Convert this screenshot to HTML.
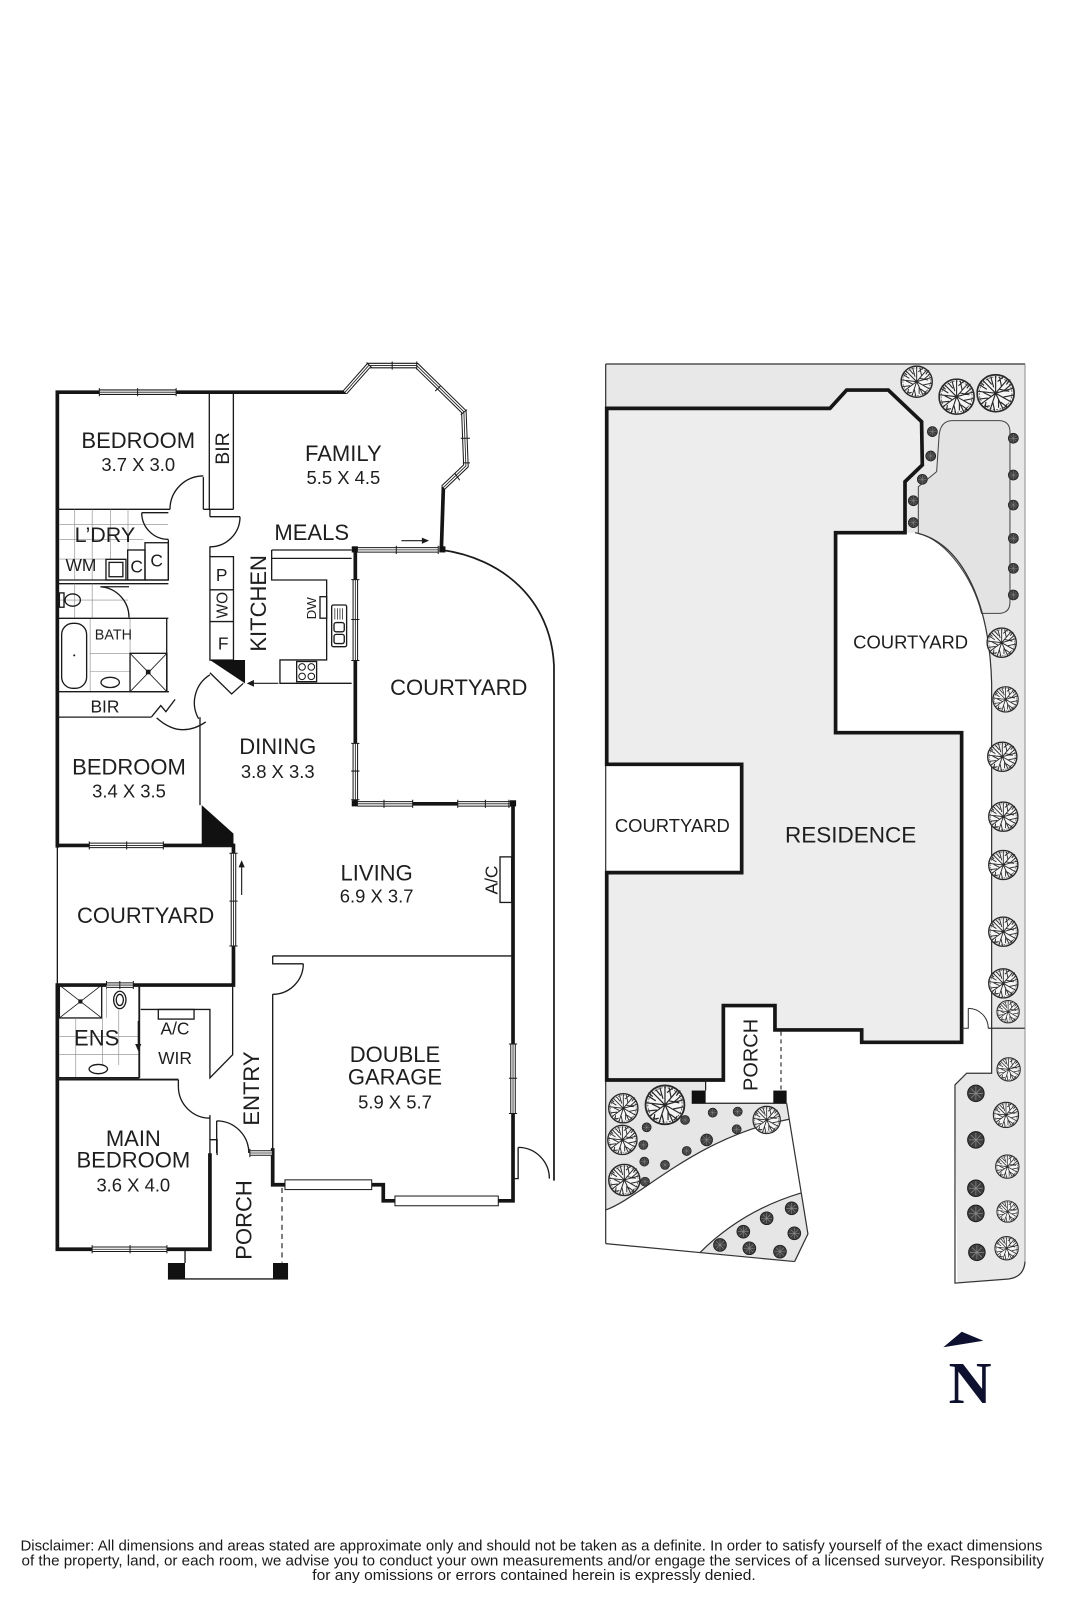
<!DOCTYPE html>
<html><head><meta charset="utf-8"><style>
html,body{margin:0;padding:0;background:#fff;}
svg{display:block}
text{font-family:"Liberation Sans",Arial,sans-serif;fill:#1e1e1e;}
.wb{stroke:#1a1a1a;stroke-width:5.4;fill:none;stroke-linejoin:miter}
.ww{stroke:#fff;stroke-width:3.4;fill:none;stroke-linejoin:miter}
.wc{stroke:#1a1a1a;stroke-width:0.8;fill:none}
.th{stroke:#151515;stroke-width:3.6;fill:none;stroke-linecap:square}
.tn{stroke:#1a1a1a;stroke-width:1.3;fill:none}
.lt{stroke:#888;stroke-width:0.6;fill:none}
</style></head><body>
<svg width="1067" height="1600" viewBox="0 0 1042 1562.5" xmlns="http://www.w3.org/2000/svg">
<defs>
<symbol id="t" viewBox="-20 -20 40 40">
<circle r="19" fill="#f6f6f6" stroke="#2a2a2a" stroke-width="1.8"/>
<circle r="16.8" fill="none" stroke="#555" stroke-width="0.9" stroke-dasharray="2 1.4"/>
<path d="M0,0 L0,-18 M0,0 L12,-14 M0,0 L18,-5 M0,0 L16,9 M0,0 L8,17 M0,0 L-6,18 M0,0 L-15,11 M0,0 L-18,-2 M0,0 L-13,-13 M-4,-9 L-9,-15 M6,-7 L4,-17 M9,-3 L17,-10 M8,4 L18,2 M5,9 L13,15 M-3,9 L-1,18 M-8,5 L-17,6 M-9,-4 L-17,-9 M2,-12 L8,-17 M-10,9 L-11,16 M4,-4 L14,-2 M-5,3 L-13,-1 M3,6 L3,15 M-2,-6 L-5,-17 M11,-9 L15,-14 M-12,-8 L-16,-12 M12,11 L9,15 M-6,13 L-12,14" stroke="#2a2a2a" stroke-width="1.2" fill="none"/>
</symbol>
<symbol id="d" viewBox="-20 -20 40 40">
<circle r="18" fill="#3e3e3e" stroke="#1a1a1a" stroke-width="2"/>
<path d="M0,-15 V15 M-15,0 H15 M-10.5,-10.5 L10.5,10.5 M-10.5,10.5 L10.5,-10.5" stroke="#8a8a8a" stroke-width="1.6"/>
</symbol>
</defs>

<!-- ================= LEFT FLOOR PLAN ================= -->
<path d="M431,537 C490,545 538,585 541,650 V1153" stroke="#1a1a1a" stroke-width="1.7" fill="none"/>

<path class="th" d="M56,383 H337 M56,383 V826 M56,962 V1220 M433,476 L431,537 M347,537 V785 M347,785 H501 M501,785 V1172.7 M266.3,1157 H374.3 V1172.7 H501 M56,825.6 H228 M228,825.6 V962 M56,962 H228 M56,1220 H205 M205,1128 V1220 M266.3,1123 V1157"/>

<path class="wb" d="M97,383 H172 M337,383 L360,357 L407,357 L453,402 L455,455 L433,476 M349,537 H428 M347,566 V645 M347,726 V781 M349,785 H403 M447,785 H500 M501,1019.5 V1087.4 M87.2,825.6 H159.5 M228,833.3 V923.8 M104,962 H130.2 M90,1220 H163 M244,1126 H266.3"/>
<path class="ww" d="M97,383 H172 M337,383 L360,357 L407,357 L453,402 L455,455 L433,476 M349,537 H428 M347,566 V645 M347,726 V781 M349,785 H403 M447,785 H500 M501,1019.5 V1087.4 M87.2,825.6 H159.5 M228,833.3 V923.8 M104,962 H130.2 M90,1220 H163 M244,1126 H266.3"/>
<path class="wc" d="M97,383 H172 M337,383 L360,357 L407,357 L453,402 L455,455 L433,476 M349,537 H428 M347,566 V645 M347,726 V781 M349,785 H403 M447,785 H500 M501,1019.5 V1087.4 M87.2,825.6 H159.5 M228,833.3 V923.8 M104,962 H130.2 M90,1220 H163 M244,1126 H266.3"/>
<path stroke="#1a1a1a" stroke-width="1" d="M97,379 V387 M134.4,379 V387 M172,379 V387 M358,354 L363,359 M383,353 V361 M407,353 V361 M430,377 L425,382 M450,405 L456,400 M450,428 H459 M452,452 H459 M444,462 L449,469 M387,533 V541 M428,533 V541 M343,605 H351 M343,566 H351 M343,645 H351 M343,726 H351 M343,753 H351 M343,781 H351 M375,781 V789 M403,781 V789 M447,781 V789 M474,781 V789 M497,781 V789 M497,1019.5 H505 M497,1053 H505 M497,1087.4 H505 M87.2,821.6 V829.6 M123.7,821.6 V829.6 M159.5,821.6 V829.6 M224,833.3 H232 M224,880 H232 M224,923.8 H232 M104,958 V966 M117,958 V966 M130.2,958 V966 M90,1216 V1224 M127,1216 V1224 M163,1216 V1224 M244,1122 V1130 M266,1122 V1130"/>
<rect x="278.3" y="1152.2" width="84.7" height="9.5" fill="#fff" stroke="#1a1a1a" stroke-width="1"/>
<rect x="385.7" y="1168" width="100.9" height="9.5" fill="#fff" stroke="#1a1a1a" stroke-width="1"/>
<rect x="343.5" y="533.5" width="6" height="6" fill="#111"/>
<rect x="343.5" y="781.5" width="6" height="6" fill="#111"/>
<rect x="498" y="781.5" width="6" height="6" fill="#111"/>
<rect x="429" y="533.5" width="6" height="6" fill="#111"/>

<path class="tn" d="M56,497.4 H166 M198.6,497.4 H227.9 M204.4,383 V497.4 M227.9,383 V497.4 M198.6,466 V497.4 M205,497.4 V504.6 M205,504.6 H234.4 M205,533.6 V543.6"/>
<path class="tn" d="M166,497.4 A32.6,32.6 0 0 1 198.6,464.8 M234.4,504.6 A29.4,29.4 0 0 1 205,534"/>
<rect class="tn" x="205" y="543.6" width="23" height="101"/>
<path class="tn" d="M205,576 H228 M205,607 H228"/>
<polygon points="205,644.5 239.3,644.5 239.3,667.3" fill="#111"/>
<path class="tn" d="M205,657 L226.2,677.7 L237.6,667.3 M205,659 A32,32 0 0 0 194,702"/>
<path class="tn" d="M265.3,537.1 H343.4 M265.3,545.3 H343.4 M265.3,537.1 V566.4 H319 V644.5 H273.4 V667.3 H343.4"/>
<path stroke="#1a1a1a" stroke-width="1.1" fill="none" d="M271.8,667.3 H245"/>
<polygon points="241,667.3 248,664 248,670.6" fill="#1a1a1a"/>
<rect class="tn" x="312.5" y="582.7" width="6.5" height="21"/>
<rect class="tn" x="323.9" y="590.8" width="14.6" height="40.7" rx="1.5"/>
<rect class="tn" x="326.2" y="608" width="10" height="9" rx="2"/>
<rect class="tn" x="326.2" y="619.5" width="10" height="9" rx="2"/>
<path stroke="#1a1a1a" stroke-width="0.7" d="M327,594 V605 M329.5,594 V605 M332,594 V605 M334.5,594 V605"/>
<rect class="tn" x="289.7" y="646" width="19.5" height="19.7"/>
<g fill="none" stroke="#1a1a1a" stroke-width="1"><circle cx="295" cy="651.3" r="3.2"/><circle cx="304" cy="651.3" r="3.2"/><circle cx="295" cy="660.5" r="3.2"/><circle cx="304" cy="660.5" r="3.2"/></g>
<path stroke="#1a1a1a" stroke-width="1.1" d="M392,528 H414"/>
<polygon points="419,528 412,525 412,531" fill="#1a1a1a"/>

<path class="lt" d="M73,497.4 V566 M90,497.4 V566 M108,497.4 V546 M125,497.4 V537 M58,512 H164 M58,527 H140 M58,546 H103"/>
<path class="tn" d="M56,566.4 H164.4 M56,570 H164.4 M164.4,527 V566.4"/>
<rect class="tn" x="124.7" y="537.1" width="16.9" height="29.3"/>
<rect class="tn" x="141.6" y="530" width="22.8" height="36.4"/>
<rect class="tn" x="103.5" y="546.2" width="19.5" height="20.2"/>
<rect class="tn" x="106.5" y="549.2" width="13.5" height="14"/>
<path class="tn" d="M164.4,500.7 H138.4 M138.4,500.7 A26,26 0 0 0 164.4,526.7"/>
<path class="lt" d="M73,570 V603 M90,570 V603 M58,586 H125 M88,603.8 V675 M127,603.8 V638 M88,638 H127 M88,656 H127"/>
<ellipse class="tn" cx="71" cy="586" rx="7.5" ry="6"/>
<rect class="tn" x="58" y="579" width="4.5" height="14"/>
<path class="tn" d="M98,573 A30,30 0 0 1 126,603 M98,573 H126"/>
<path class="tn" d="M56,603.8 H164.4 M162.8,603.8 V675.5"/>
<rect class="tn" x="60.2" y="608.7" width="24.4" height="63.5" rx="11"/>
<circle cx="72.5" cy="640" r="1" fill="#1a1a1a"/>
<rect class="tn" x="127" y="638" width="36" height="37.5"/>
<path stroke="#1a1a1a" stroke-width="0.8" d="M127,638 L163,675.5 M163,638 L127,675.5"/>
<rect x="142.5" y="654" width="4.5" height="4.5" fill="#1a1a1a"/>
<ellipse class="tn" cx="107.6" cy="666.4" rx="9" ry="5"/>
<path class="tn" d="M56,675.5 H165 M56,700.3 H148 M148,700 L157,689 L162,695 L171,683 M153,701 Q176,722 201,705 M195.3,700.3 V786.3"/>
<polygon points="197,786.3 228,814.1 228,825.6 197,825.6" fill="#111"/>
<path class="tn" d="M56,826 V962" stroke-width="1"/>
<path stroke="#1a1a1a" stroke-width="1.1" d="M236,874 V845"/>
<polygon points="236,840 233,847 239,847" fill="#1a1a1a"/>
<rect class="tn" x="58" y="962" width="41.3" height="32.1"/>
<path stroke="#1a1a1a" stroke-width="0.8" d="M58,962 L99.3,994.1 M99.3,962 L58,994.1"/>
<rect x="76.5" y="976" width="4" height="4" fill="#1a1a1a"/>
<ellipse class="tn" cx="117" cy="976.5" rx="6" ry="8.5"/>
<ellipse class="tn" cx="117" cy="976.5" rx="3.5" ry="5.5"/>
<path class="lt" d="M58,1012 H136 M74,994 V1052 M100,994 V1040 M116,986 V1040 M58,1030 H136 M104,962 V994"/>
<path stroke="#1a1a1a" stroke-width="1.8" fill="none" d="M136,962 V1052.6 M56,1052.6 H136"/>
<path stroke="#1a1a1a" stroke-width="1.1" d="M135,997 V1021"/>
<polygon points="135,1026.5 132,1019.5 138,1019.5" fill="#1a1a1a"/>
<ellipse class="tn" cx="96" cy="1044" rx="9" ry="4.5"/>
<path class="tn" d="M137.4,985.8 H205 V1052.6 L227.2,1030 V962"/>
<rect class="tn" x="154.6" y="985.8" width="34.9" height="9.4"/>
<path stroke="#1a1a1a" stroke-width="1.8" fill="none" d="M56,1054.3 H174.2"/>
<path class="tn" d="M174.2,1054.3 V1061.3 M174.2,1061.3 A31,31 0 0 0 205,1092 M205,1089 V1128 M205,1113 H212 V1128"/>
<path class="tn" d="M211.6,1094.6 V1126 M211.6,1094.6 A31.4,31.4 0 0 1 243,1126"/>
<path class="tn" d="M266.3,970.8 V1157 M266.3,933.5 H500.6 M266.3,933.5 V941.2 H296.2 M296.2,941.2 A29.9,29.9 0 0 1 266.3,971"/>
<rect class="tn" x="488.3" y="836.8" width="11.4" height="44.5"/>
<path class="tn" d="M506,1120.5 V1151 H501 M506,1120.5 A30.5,30.5 0 0 1 536.5,1151"/>
<path class="tn" d="M180.7,1220 V1233.4 M164,1249 H281.3"/>
<rect x="164" y="1233.4" width="16.7" height="15.6" fill="#111"/>
<rect x="266.6" y="1233.4" width="14.7" height="15.6" fill="#111"/>
<path stroke="#1a1a1a" stroke-width="1.1" stroke-dasharray="5 4" d="M275.4,1160 V1233"/>

<g text-anchor="middle" dominant-baseline="central">
<text x="135" y="430" font-size="21.5">BEDROOM</text>
<text x="135" y="453.5" font-size="18">3.7 X 3.0</text>
<text x="335.3" y="443" font-size="21.5">FAMILY</text>
<text x="335.3" y="466.5" font-size="18">5.5 X 4.5</text>
<text x="304.4" y="520.2" font-size="21.5">MEALS</text>
<text x="102.5" y="522.5" font-size="21">L’DRY</text>
<text x="79" y="552" font-size="17">WM</text>
<text x="133.5" y="553.4" font-size="17">C</text>
<text x="153" y="547.5" font-size="17">C</text>
<text x="216.5" y="561.5" font-size="17">P</text>
<text x="218" y="628.3" font-size="17">F</text>
<text x="110.7" y="620.5" font-size="14">BATH</text>
<text x="102.5" y="690" font-size="17">BIR</text>
<text x="126" y="749" font-size="21.5">BEDROOM</text>
<text x="126" y="772.5" font-size="18">3.4 X 3.5</text>
<text x="271.2" y="729" font-size="21.5">DINING</text>
<text x="271.2" y="753.2" font-size="18">3.8 X 3.3</text>
<text x="448" y="671.5" font-size="21.5">COURTYARD</text>
<text x="142.2" y="894.2" font-size="21.5">COURTYARD</text>
<text x="367.8" y="852.4" font-size="21.5">LIVING</text>
<text x="367.8" y="875.1" font-size="18">6.9 X 3.7</text>
<text x="94.4" y="1013.6" font-size="21.5">ENS</text>
<text x="170.9" y="1004.5" font-size="17">A/C</text>
<text x="170.9" y="1033.4" font-size="17">WIR</text>
<text x="385.7" y="1030" font-size="21.5">DOUBLE</text>
<text x="385.7" y="1051.9" font-size="21.5">GARAGE</text>
<text x="385.7" y="1076.3" font-size="18">5.9 X 5.7</text>
<text x="130.2" y="1111.8" font-size="21.5">MAIN</text>
<text x="130.2" y="1133" font-size="21.5">BEDROOM</text>
<text x="130.2" y="1157" font-size="18">3.6 X 4.0</text>
<text transform="translate(218,438) rotate(-90)" font-size="19">BIR</text>
<text transform="translate(218,591) rotate(-90)" font-size="15">WO</text>
<text transform="translate(252.3,589.2) rotate(-90)" font-size="21.5">KITCHEN</text>
<text transform="translate(304.3,594) rotate(-90)" font-size="13">DW</text>
<text transform="translate(480.1,859.4) rotate(-90)" font-size="17">A/C</text>
<text transform="translate(245.8,1063) rotate(-90)" font-size="21.5">ENTRY</text>
<text transform="translate(238.3,1191.4) rotate(-90)" font-size="21.5">PORCH</text>
</g>

<!-- ================= RIGHT SITE PLAN ================= -->
<path d="M591.5,355.5 H1001 V1004.2 H968.4 V667 C966,580 935,528 893.6,520.2 H591.5 Z" fill="#e8e8e8"/>
<path d="M930,410.8 H975 Q986.3,410.8 986.3,422 V588 Q986.3,599 975,599 H958.6 C950,565 925,528 896.8,521 V475.3 L914.7,460.6 L917,426.4 Q918,411 930,410.8 Z" fill="#e3e3e3" stroke="#444" stroke-width="1"/>
<path d="M968.4,1004.2 H1001 V1232 Q1000,1247 985,1249 L935,1253 L932.6,1059.5 L944,1048.1 H968.4 Z" fill="#e8e8e8"/>
<path d="M591.5,1054.7 H689.1 V1077.4 H768.2 L770.6,1093 C680,1110 625,1170 591.5,1181.6 Z" fill="#e6e6e6"/>
<path d="M683.6,1223.2 Q725,1182 782.5,1165 L789,1205 L776,1232 Z" fill="#e6e6e6"/>
<g stroke="#333" stroke-width="1.2" fill="none">
<path d="M770.6,1093 C680,1110 625,1170 591.5,1181.6"/>
<path d="M683.6,1223.2 Q725,1182 782.5,1165"/>
<path d="M768.2,1077.4 L789,1205 L776,1232 M591.5,1214.5 L776,1232"/>
<path d="M893.6,520.2 C935,528 966,580 968.4,667 V1048.1 H944 L932.6,1059.5 V1253 L985,1249 Q1000,1247 1001,1232"/>
<path d="M965,1004.2 H1001"/>
<path d="M591.5,355.5 H1001 M591.5,355.5 V1214.5"/>
</g>
<path d="M1001,355.5 V1232" stroke="#777" stroke-width="0.8"/>
<path d="M592.5,398.8 H810.5 L826.8,380.9 H867.5 L900,411.8 L900.7,454.1 L883.8,470.4 V520.2 H816 V715.5 H939.1 V1017.9 H841.5 V1005.8 H756.8 V982 H706.4 V1054.7 H592.5 V852.2 H724.3 V746.4 H592.5 Z" fill="#ededed" stroke="#161616" stroke-width="3.6" stroke-linejoin="miter"/>
<path d="M939.1,1004.2 H945.6 V984.7 M945.6,984.7 A19.5,19.5 0 0 1 965.1,1004.2" stroke="#333" stroke-width="1" fill="none"/>
<path d="M689.1,1054.7 V1065 M675.5,1077.4 H768.2" stroke="#222" stroke-width="1.2"/>
<rect x="675.5" y="1065" width="13.6" height="12.4" fill="#111"/>
<rect x="755.2" y="1065" width="13" height="12.4" fill="#111"/>
<path d="M762.7,1007.5 V1065" stroke="#222" stroke-width="1.1" stroke-dasharray="4 3.5"/>

<g>
<use href="#t" x="879.2" y="356.7" width="32" height="32"/>
<use href="#t" x="916.2" y="369.4" width="36" height="36"/>
<use href="#t" x="953.3" y="365" width="38" height="38"/>
<use href="#t" x="963.2" y="612.6" width="30" height="30"/>
<use href="#t" x="969" y="670" width="26" height="26"/>
<use href="#t" x="963.8" y="724" width="30" height="30"/>
<use href="#t" x="964.8" y="782.5" width="30" height="30"/>
<use href="#t" x="964.8" y="829.7" width="30" height="30"/>
<use href="#t" x="964.8" y="894.8" width="30" height="30"/>
<use href="#t" x="964.8" y="945.3" width="30" height="30"/>
<use href="#t" x="973" y="976.5" width="23" height="23"/>
<use href="#t" x="973" y="1032.3" width="24" height="24"/>
<use href="#t" x="969.4" y="1075.8" width="26" height="26"/>
<use href="#t" x="971.7" y="1127.3" width="24" height="24"/>
<use href="#t" x="973" y="1172.2" width="22" height="22"/>
<use href="#t" x="971" y="1207" width="24" height="24"/>
<use href="#t" x="593.7" y="1067.3" width="30" height="30"/>
<use href="#t" x="629.4" y="1059" width="40" height="40"/>
<use href="#t" x="592.8" y="1098.2" width="30" height="30"/>
<use href="#t" x="593.7" y="1136.3" width="32" height="32"/>
<use href="#t" x="734.7" y="1079.7" width="28" height="28"/>
</g>
<g>
<use href="#d" x="905" y="416" width="11" height="11"/>
<use href="#d" x="903.4" y="439.8" width="11" height="11"/>
<use href="#d" x="895.2" y="462.6" width="11" height="11"/>
<use href="#d" x="886.4" y="483.5" width="11" height="11"/>
<use href="#d" x="886.4" y="504.9" width="11" height="11"/>
<use href="#d" x="984.1" y="422.5" width="11" height="11"/>
<use href="#d" x="984.1" y="458.4" width="11" height="11"/>
<use href="#d" x="984.1" y="487.7" width="11" height="11"/>
<use href="#d" x="984.1" y="520.2" width="11" height="11"/>
<use href="#d" x="984.1" y="549.5" width="11" height="11"/>
<use href="#d" x="984.1" y="575.5" width="11" height="11"/>
<use href="#d" x="944" y="1058.7" width="18" height="18"/>
<use href="#d" x="944" y="1104.2" width="18" height="18"/>
<use href="#d" x="944" y="1151.4" width="18" height="18"/>
<use href="#d" x="944" y="1176" width="18" height="18"/>
<use href="#d" x="945" y="1214" width="18" height="18"/>
<use href="#d" x="664" y="1088.7" width="10" height="10"/>
<use href="#d" x="626.5" y="1095.9" width="10" height="10"/>
<use href="#d" x="691" y="1081.6" width="10" height="10"/>
<use href="#d" x="715.4" y="1080.6" width="10" height="10"/>
<use href="#d" x="714.4" y="1097.8" width="10" height="10"/>
<use href="#d" x="683.6" y="1106.7" width="13" height="13"/>
<use href="#d" x="623.3" y="1113.1" width="10" height="10"/>
<use href="#d" x="665.6" y="1119" width="10" height="10"/>
<use href="#d" x="624.2" y="1129.4" width="10" height="10"/>
<use href="#d" x="644.4" y="1132.6" width="10" height="10"/>
<use href="#d" x="624.9" y="1149" width="10" height="10"/>
<use href="#d" x="766.1" y="1173" width="14" height="14"/>
<use href="#d" x="741.7" y="1182.7" width="14" height="14"/>
<use href="#d" x="718.9" y="1195.8" width="14" height="14"/>
<use href="#d" x="768.7" y="1197.4" width="14" height="14"/>
<use href="#d" x="696.1" y="1208.8" width="14" height="14"/>
<use href="#d" x="724.8" y="1212" width="14" height="14"/>
<use href="#d" x="754.7" y="1215.3" width="14" height="14"/>
</g>

<g text-anchor="middle" dominant-baseline="central">
<text x="889.3" y="627" font-size="18">COURTYARD</text>
<text x="656.6" y="806" font-size="18">COURTYARD</text>
<text x="830.7" y="815.5" font-size="22">RESIDENCE</text>
<text transform="translate(734,1030.2) rotate(-90)" font-size="19.5">PORCH</text>
</g>

<!-- north arrow -->
<polygon points="921.2,1315.7 939.2,1300.5 960.3,1309.3" fill="#0e1030"/>
<text x="947.3" y="1370" text-anchor="middle" font-weight="bold" font-size="58" style="font-family:'Liberation Serif',serif;fill:#0e1030">N</text>

<!-- disclaimer -->
<text x="20" y="1514" font-size="14.5" textLength="998" lengthAdjust="spacingAndGlyphs" style="fill:#1a1a1a">Disclaimer: All dimensions and areas stated are approximate only and should not be taken as a definite. In order to satisfy yourself of the exact dimensions</text>
<text x="21" y="1528.6" font-size="14.5" textLength="998.5" lengthAdjust="spacingAndGlyphs" style="fill:#1a1a1a">of the property, land, or each room, we advise you to conduct your own measurements and/or engage the services of a licensed surveyor. Responsibility</text>
<text x="305" y="1543.2" font-size="14.5" textLength="433" lengthAdjust="spacingAndGlyphs" style="fill:#1a1a1a">for any omissions or errors contained herein is expressly denied.</text>
</svg>
</body></html>
